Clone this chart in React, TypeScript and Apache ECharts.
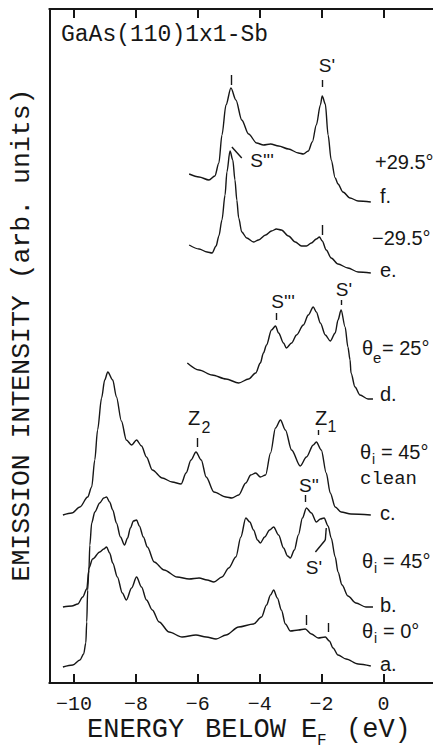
import React, { useEffect, useRef } from "react";
import * as echarts from "echarts";

// Energy axis ticks (eV)
const energyTicks = [-10, -8, -6, -4, -2, 0];

// Spectra: [energy below EF (eV), intensity (arb. units, including vertical offset)]
const curveA: [number, number][] = [
  [-10.36, 16], [-10.04, 18], [-9.81, 23], [-9.69, 29], [-9.62, 40], [-9.59, 61], [-9.56, 93], [-9.52, 115],
  [-9.4, 124], [-9.17, 131], [-9.04, 134], [-8.95, 136], [-8.85, 130], [-8.75, 120], [-8.6, 106], [-8.44, 90],
  [-8.31, 83], [-8.14, 95], [-7.98, 106], [-7.82, 96], [-7.66, 83], [-7.47, 73], [-7.25, 61], [-6.93, 51],
  [-6.51, 46], [-6.06, 48], [-5.73, 46], [-5.41, 44], [-5.09, 48], [-4.68, 56], [-4.2, 59], [-3.94, 66],
  [-3.78, 78], [-3.65, 88], [-3.55, 93], [-3.43, 85], [-3.3, 73], [-3.17, 59], [-3.01, 52], [-2.75, 53],
  [-2.53, 54], [-2.33, 49], [-2.11, 45], [-1.88, 46], [-1.75, 42], [-1.63, 35], [-1.47, 28], [-1.21, 24],
  [-0.82, 19], [-0.41, 17],
];

const curveB: [number, number][] = [
  [-10.36, 76], [-10.07, 77], [-9.88, 79], [-9.72, 86], [-9.59, 94], [-9.52, 113], [-9.49, 138], [-9.43, 160],
  [-9.33, 171], [-9.17, 180], [-9.04, 185], [-8.95, 186], [-8.85, 181], [-8.75, 173], [-8.63, 160], [-8.5, 146],
  [-8.37, 138], [-8.27, 145], [-8.18, 155], [-8.08, 162], [-7.98, 163], [-7.89, 157], [-7.76, 146], [-7.63, 136],
  [-7.41, 121], [-7.09, 113], [-6.67, 106], [-6.28, 104], [-5.96, 105], [-5.7, 103], [-5.48, 101], [-5.22, 106],
  [-5.0, 115], [-4.77, 126], [-4.61, 146], [-4.45, 165], [-4.32, 161], [-4.2, 153], [-4.07, 143], [-3.98, 140],
  [-3.84, 146], [-3.68, 153], [-3.55, 156], [-3.39, 148], [-3.23, 135], [-3.1, 127], [-3.01, 125], [-2.88, 133],
  [-2.75, 148], [-2.62, 165], [-2.49, 175], [-2.33, 170], [-2.17, 161], [-2.04, 164], [-1.92, 165], [-1.79, 157],
  [-1.69, 145], [-1.56, 126], [-1.47, 111], [-1.34, 98], [-1.15, 87], [-0.89, 80], [-0.57, 76], [-0.34, 76],
];

const curveC: [number, number][] = [
  [-10.36, 168], [-10.07, 170], [-9.81, 176], [-9.56, 186], [-9.43, 196], [-9.33, 223], [-9.24, 253], [-9.11, 285],
  [-9.01, 303], [-8.91, 311], [-8.75, 303], [-8.63, 286], [-8.47, 262], [-8.31, 243], [-8.14, 238], [-7.98, 243],
  [-7.82, 237], [-7.66, 226], [-7.47, 213], [-7.15, 205], [-6.83, 201], [-6.54, 199], [-6.38, 210], [-6.22, 223],
  [-6.06, 231], [-5.89, 223], [-5.73, 206], [-5.48, 191], [-5.09, 186], [-4.9, 185], [-4.68, 188], [-4.45, 200],
  [-4.29, 208], [-4.13, 210], [-3.98, 206], [-3.81, 208], [-3.65, 230], [-3.49, 255], [-3.33, 263], [-3.17, 253],
  [-2.97, 233], [-2.69, 217], [-2.49, 226], [-2.27, 238], [-2.17, 241], [-2.01, 233], [-1.85, 210], [-1.72, 190],
  [-1.56, 176], [-1.37, 171], [-1.05, 169], [-0.41, 168],
];

const curveD: [number, number][] = [
  [-6.34, 320], [-5.96, 313], [-5.54, 308], [-5.09, 304], [-4.68, 300], [-4.36, 304], [-4.13, 310], [-3.98, 320],
  [-3.88, 330], [-3.78, 338], [-3.62, 353], [-3.49, 357], [-3.39, 350], [-3.23, 340], [-3.14, 335], [-2.97, 340],
  [-2.81, 348], [-2.59, 358], [-2.43, 368], [-2.27, 376], [-2.17, 371], [-2.04, 360], [-1.88, 348], [-1.72, 342],
  [-1.56, 350], [-1.47, 363], [-1.37, 373], [-1.24, 356], [-1.15, 336], [-1.08, 323], [-1.05, 310], [-0.92, 296],
  [-0.76, 288], [-0.5, 284], [-0.34, 284],
];

const curveE: [number, number][] = [
  [-6.28, 438], [-5.96, 434], [-5.7, 431], [-5.54, 430], [-5.41, 437], [-5.32, 447], [-5.22, 463], [-5.12, 488],
  [-5.06, 511], [-4.96, 532], [-4.87, 523], [-4.8, 503], [-4.74, 483], [-4.68, 465], [-4.58, 451], [-4.42, 445],
  [-4.2, 441], [-4.04, 443], [-3.81, 448], [-3.62, 452], [-3.46, 454], [-3.3, 453], [-3.07, 447], [-2.85, 441],
  [-2.65, 437], [-2.49, 437], [-2.33, 440], [-2.17, 444], [-2.07, 446], [-1.98, 442], [-1.85, 433], [-1.69, 425],
  [-1.47, 419], [-1.15, 415], [-0.82, 411], [-0.41, 410],
];

const curveF: [number, number][] = [
  [-6.28, 509], [-5.96, 506], [-5.64, 503], [-5.45, 507], [-5.32, 520], [-5.22, 548], [-5.09, 578], [-4.93, 595],
  [-4.77, 583], [-4.58, 563], [-4.36, 549], [-4.1, 540], [-3.88, 538], [-3.65, 539], [-3.39, 537], [-3.07, 534],
  [-2.75, 530], [-2.59, 529], [-2.43, 532], [-2.3, 541], [-2.17, 558], [-2.04, 578], [-1.98, 587], [-1.88, 579],
  [-1.79, 548], [-1.69, 523], [-1.56, 505], [-1.47, 499], [-1.31, 491], [-1.08, 485], [-0.82, 482], [-0.41, 481],
];

const curves = [curveA, curveB, curveC, curveD, curveE, curveF];
const curveNames = ["a", "b", "c", "d", "e", "f"];

// Short vertical tick marks above features: [energy, lower, upper]
const featureTicks: [number, number, number][] = [
  [-4.93, 598, 608],
  [-1.98, 596, 603],
  [-1.98, 448, 458],
  [-3.46, 363, 370],
  [-1.37, 378, 383],
  [-6.02, 236, 245],
  [-2.11, 248, 253],
  [-2.52, 181, 188],
  [-2.49, 58, 68],
  [-1.79, 51, 60],
];

// Pointer lines: list of [energy, intensity] vertices
const pointerLines: [number, number][][] = [
  [[-4.9, 536], [-4.58, 525]],
  [[-2.2, 131], [-1.88, 143], [-1.85, 155]],
];

const INK = "#161616";
const MONO = "'Liberation Mono', 'DejaVu Sans Mono', monospace";
const SANS = "'Liberation Sans', 'DejaVu Sans', sans-serif";

function txt(text: string, x: number, y: number, size: number, family: string, align = "left", rotation = 0) {
  return {
    type: "text",
    x,
    y,
    rotation,
    silent: true,
    style: {
      text,
      font: `${size}px ${family}`,
      fill: INK,
      textAlign: align,
      textVerticalAlign: "middle",
    },
  };
}

export default function App() {
  const ref = useRef<HTMLDivElement>(null);

  useEffect(() => {
    if (!ref.current) return;
    const chart = echarts.init(ref.current, null, { renderer: "svg" });

    const markLineData: any[] = [];
    featureTicks.forEach(([e, lo, hi]) => {
      markLineData.push([{ coord: [e, lo] }, { coord: [e, hi] }]);
    });
    pointerLines.forEach((pts) => {
      for (let i = 0; i < pts.length - 1; i++) {
        markLineData.push([{ coord: pts[i] }, { coord: pts[i + 1] }]);
      }
    });

    const series: any[] = curves.map((data, i) => ({
      type: "line",
      name: curveNames[i],
      data,
      showSymbol: false,
      smooth: 0.3,
      smoothMonotone: "x",
      lineStyle: { color: INK, width: 1.4 },
      silent: true,
      markLine:
        i === 0
          ? {
              silent: true,
              symbol: ["none", "none"],
              label: { show: false },
              lineStyle: { color: INK, width: 1.4, type: "solid" },
              data: markLineData,
            }
          : undefined,
    }));

    const tickFmt = (v: number) => (v < 0 ? "\u2212" + Math.abs(v) : String(v));

    const graphic: any[] = [
      txt("GaAs(110)1x1-Sb", 61, 35, 23, MONO),
      txt("EMISSION INTENSITY (arb. units)", 22, 335, 26.5, MONO, "center", Math.PI / 2),
      txt("ENERGY", 87, 730, 27, MONO),
      txt("BELOW", 205, 730, 27, MONO),
      txt("E", 301, 730, 27, MONO),
      txt("F", 317, 741, 16, MONO),
      txt("(eV)", 346, 730, 27, MONO),
      // feature labels
      txt("S'", 327, 65, 19, SANS, "center"),
      txt("S'''", 262, 160, 19, SANS, "center"),
      txt("S'''", 283, 301, 19, SANS, "center"),
      txt("S'", 344, 289, 19, SANS, "center"),
      txt("Z", 194, 418, 20, SANS, "center"),
      txt("2", 206, 427, 16, SANS, "center"),
      txt("Z", 321, 418, 20, SANS, "center"),
      txt("1", 332, 426, 16, SANS, "center"),
      txt("S''", 309, 485, 19, SANS, "center"),
      txt("S'", 314, 567, 19, SANS, "center"),
      // right-hand labels
      txt("+29.5°", 375, 162, 20, SANS),
      txt("f.", 380, 196, 20, SANS),
      txt("\u221229.5°", 372, 238, 20, SANS),
      txt("e.", 380, 270, 20, SANS),
      txt("θ", 362, 348, 20, SANS),
      txt("e", 373, 357, 15, SANS),
      txt("= 25°", 382, 348, 20, SANS),
      txt("d.", 380, 394, 20, SANS),
      txt("θ", 360, 452, 20, SANS),
      txt("i", 372, 459, 14, SANS),
      txt("= 45°", 381, 452, 20, SANS),
      txt("clean", 360, 479, 19, MONO),
      txt("c.", 380, 513, 20, SANS),
      txt("θ", 362, 561, 20, SANS),
      txt("i", 374, 568, 14, SANS),
      txt("= 45°", 383, 561, 20, SANS),
      txt("b.", 380, 605, 20, SANS),
      txt("θ", 362, 631, 20, SANS),
      txt("i", 374, 638, 14, SANS),
      txt("= 0°", 383, 631, 20, SANS),
      txt("a.", 380, 664, 20, SANS),
    ];

    chart.setOption({
      animation: false,
      backgroundColor: "#ffffff",
      grid: { left: 49.3, top: 9, width: 386.3, height: 674, containLabel: false },
      xAxis: [
        {
          type: "value",
          position: "bottom",
          min: -10.8,
          max: 1.6,
          axisLine: { show: true, onZero: false, lineStyle: { color: INK, width: 2 } },
          axisTick: { show: true, inside: true, length: 9, customValues: energyTicks, lineStyle: { color: INK, width: 2 } },
          axisLabel: {
            show: true,
            customValues: energyTicks,
            formatter: tickFmt,
            color: INK,
            fontFamily: MONO,
            fontSize: 20,
            margin: 11,
          },
          splitLine: { show: false },
        },
        {
          type: "value",
          position: "top",
          min: -10.8,
          max: 1.6,
          axisLine: { show: true, onZero: false, lineStyle: { color: INK, width: 2 } },
          axisTick: { show: true, inside: true, length: 9, customValues: energyTicks, lineStyle: { color: INK, width: 2 } },
          axisLabel: { show: false },
          splitLine: { show: false },
        },
      ],
      yAxis: {
        type: "value",
        min: 0,
        max: 674,
        axisLine: { show: true, onZero: false, lineStyle: { color: INK, width: 2 } },
        axisTick: { show: false },
        axisLabel: { show: false },
        splitLine: { show: false },
      },
      series,
      graphic,
    });

    return () => chart.dispose();
  }, []);

  return (
    <div
      ref={ref}
      style={{ position: "fixed", left: 0, top: 0, width: 433, height: 749, background: "#fff" }}
    />
  );
}
